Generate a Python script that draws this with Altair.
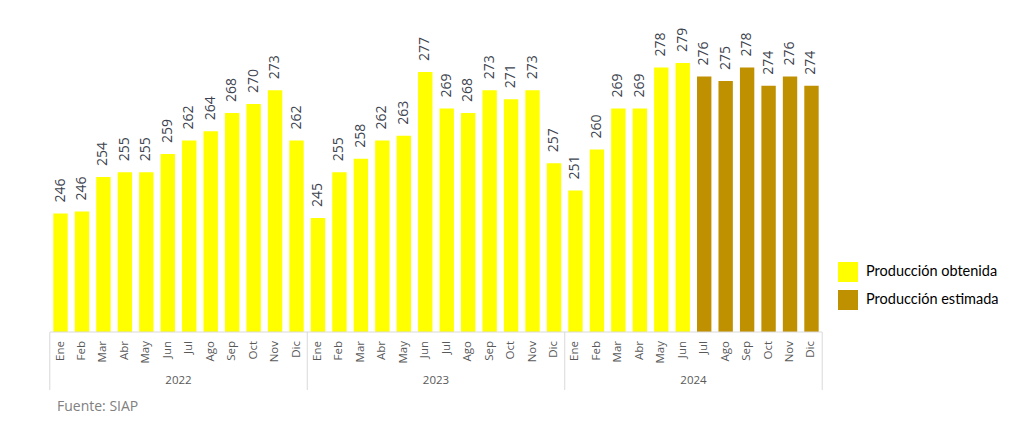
import altair as alt
import pandas as pd

months = ["Ene", "Feb", "Mar", "Abr", "May", "Jun", "Jul", "Ago", "Sep", "Oct", "Nov", "Dic"]
years = ["2022", "2023", "2024"]
v2022 = [246, 246.4, 254, 255, 255, 259, 262, 264, 268, 270, 273, 262]
v2023 = [245, 255, 258, 262, 263, 277, 269, 268, 273, 271, 273, 257]
v2024 = [251, 260, 269, 269, 278, 279, 276, 275, 278, 274, 276, 274]
labels2022 = [246, 246, 254, 255, 255, 259, 262, 264, 268, 270, 273, 262]
labels2023 = v2023
labels2024 = v2024
estimated_from_2024 = 6  # Jul 2024 onward is estimated
series_names = ["Producción obtenida", "Producción estimada"]
series_colors = ["#FFFF00", "#BF9000"]

rows = []
for yi, (yr, vals, labs) in enumerate(zip(years, [v2022, v2023, v2024], [labels2022, labels2023, labels2024])):
    for mi, (m, v, l) in enumerate(zip(months, vals, labs)):
        tipo = series_names[1] if (yr == "2024" and mi >= estimated_from_2024) else series_names[0]
        rows.append({"idx": yi * 12 + mi, "mes": m, "anio": yr, "value": v, "label": str(l), "tipo": tipo})
df = pd.DataFrame(rows)

year_df = pd.DataFrame({"idx": [5, 17, 29], "anio": years})
sep_df = pd.DataFrame({"idx": [0, 12, 24]})
end_df = pd.DataFrame({"idx": [35]})

W, H = 772, 312
STEP = W / (36 - 0.33 + 0.31)
FONT = "Open Sans"

xs = alt.X("idx:O", scale=alt.Scale(domain=list(range(36)), paddingInner=0.33, paddingOuter=0.155), axis=None)
ys = alt.Y("value:Q", scale=alt.Scale(domain=[220, 288.4], zero=False, nice=False), axis=None)

base = alt.Chart(df).encode(x=xs)

bars = base.mark_bar().encode(
    y=ys,
    y2=alt.datum(220),
    color=alt.Color(
        "tipo:N",
        scale=alt.Scale(domain=series_names, range=series_colors),
        legend=alt.Legend(
            title=None, orient="none", legendX=788, legendY=242,
            symbolType="square", symbolSize=400, symbolStrokeWidth=0,
            labelFontSize=14.5, labelFont="Lato", labelColor="#000000",
            labelOffset=8, rowPadding=8, padding=0,
        ),
    ),
)

value_labels = base.mark_text(
    angle=270, align="left", baseline="middle", dx=11, fontSize=14, font=FONT, color="#3d4450"
).encode(y=ys, text="label:N")

month_labels = base.mark_text(
    angle=270, align="right", baseline="middle", fontSize=11.5, font=FONT, color="#595959"
).encode(y=alt.value(H + 9), text="mes:N")

year_labels = alt.Chart(year_df).mark_text(
    dx=STEP / 2, baseline="middle", fontSize=11.5, font=FONT, color="#595959"
).encode(x=xs, y=alt.value(H + 49), text="anio:N")

seps = alt.Chart(sep_df).mark_rule(color="#d9d9d9", xOffset=-STEP / 2, strokeWidth=1).encode(
    x=xs, y=alt.value(H), y2=alt.value(H + 58)
)
end_sep = alt.Chart(end_df).mark_rule(color="#d9d9d9", xOffset=STEP / 2, strokeWidth=1).encode(
    x=xs, y=alt.value(H), y2=alt.value(H + 58)
)
axis_line = alt.Chart(end_df).mark_rule(color="#d9d9d9", strokeWidth=1).encode(
    x=alt.value(0), x2=alt.value(W), y=alt.value(H)
)

source = alt.Chart(pd.DataFrame({"t": ["Fuente: SIAP"]})).mark_text(
    align="left", baseline="middle", fontSize=14, font=FONT, color="#808080"
).encode(x=alt.value(7), y=alt.value(H + 75), text="t:N")

chart = alt.layer(bars, value_labels, month_labels, year_labels, seps, end_sep, axis_line, source).properties(
    width=W, height=H,
    background="white",
    padding={"left": 42, "top": 12, "right": 189, "bottom": 98},
    autosize=alt.AutoSizeParams(type="none"),
).configure_view(strokeWidth=0)

chart.save("out.html", embed_options={"renderer": "svg", "actions": False})
